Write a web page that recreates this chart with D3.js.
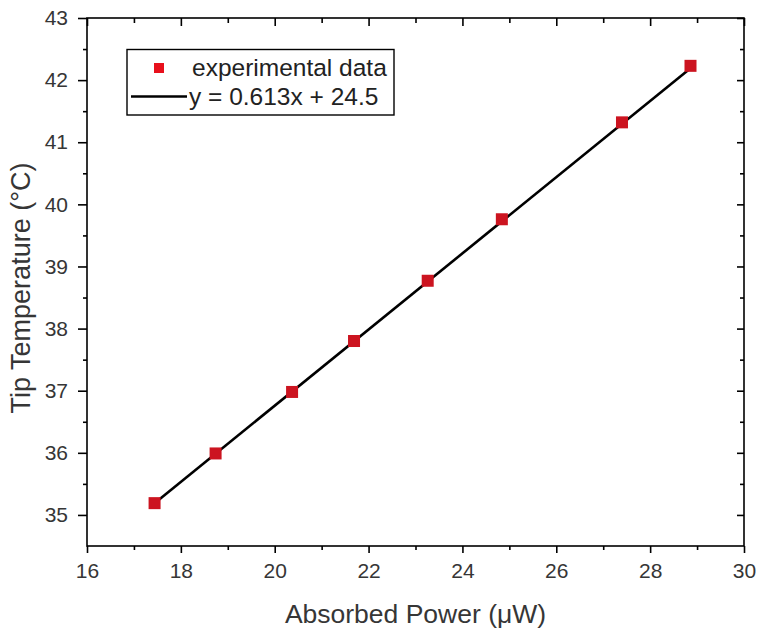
<!DOCTYPE html>
<html>
<head>
<meta charset="utf-8">
<script src="https://cdn.jsdelivr.net/npm/d3@7/dist/d3.min.js"></script>
<style>
  html, body { margin: 0; padding: 0; background: #fff; }
  svg { display: block; font-family: "Liberation Sans", Arial, sans-serif; }
</style>
</head>
<body>
<svg id="chart" width="757" height="630"></svg>
<script>
// ---- data ----
const powerX = [17.44, 18.74, 20.37, 21.69, 23.26, 24.84, 27.40, 28.86];
const tempY  = [35.19, 35.99, 36.98, 37.80, 38.77, 39.76, 41.32, 42.23];
const fitX   = [17.44, 28.86];
const fitY   = [35.19, 42.19];
const xTicks = [16, 18, 20, 22, 24, 26, 28, 30];
const yTicks = [35, 36, 37, 38, 39, 40, 41, 42, 43];
const xMinor = [17, 19, 21, 23, 25, 27, 29];
const yMinor = [35.5, 36.5, 37.5, 38.5, 39.5, 40.5, 41.5, 42.5];
const legendLabels = ["experimental data", "y = 0.613x + 24.5"];
const xTitle = "Absorbed Power (\u03BCW)";
const yTitle = "Tip Temperature (\u00B0C)";

// ---- layout ----
const L = 87, R = 744, T = 18, B = 546;
const svg = d3.select("#chart");
const x = d3.scaleLinear().domain([16, 30]).range([L, R]);
const y = d3.scaleLinear().domain([34.5, 43]).range([B, T]);
const textColor = "#363636";
const red = "#cc1420";

// frame
svg.append("rect").attr("x", L).attr("y", T).attr("width", R - L).attr("height", B - T)
  .attr("fill", "none").attr("stroke", "#000").attr("stroke-width", 1.6);

function styleAxis(g) {
  g.select(".domain").remove();
  g.selectAll("line").attr("stroke", "#000").attr("stroke-width", 1.6);
}

// bottom axis
svg.append("g").attr("transform", `translate(0,${B})`)
  .call(d3.axisBottom(x).tickValues(xTicks).tickSize(7).tickPadding(10).tickFormat(d3.format("d")))
  .call(styleAxis)
  .call(g => g.selectAll("text").attr("font-size", 21).attr("fill", textColor)
    .attr("font-family", "Liberation Sans, Arial, sans-serif"));
svg.append("g").attr("transform", `translate(0,${B})`)
  .call(d3.axisBottom(x).tickValues(xMinor).tickSize(4).tickFormat(""))
  .call(styleAxis);

// top axis (inward)
svg.append("g").attr("transform", `translate(0,${T})`)
  .call(d3.axisBottom(x).tickValues(xTicks).tickSize(8).tickFormat(""))
  .call(styleAxis);
svg.append("g").attr("transform", `translate(0,${T})`)
  .call(d3.axisBottom(x).tickValues(xMinor).tickSize(5).tickFormat(""))
  .call(styleAxis);

// left axis
svg.append("g").attr("transform", `translate(${L},0)`)
  .call(d3.axisLeft(y).tickValues(yTicks).tickSize(9).tickPadding(10).tickFormat(d3.format("d")))
  .call(styleAxis)
  .call(g => g.selectAll("text").attr("font-size", 21).attr("fill", textColor)
    .attr("font-family", "Liberation Sans, Arial, sans-serif"));
svg.append("g").attr("transform", `translate(${L},0)`)
  .call(d3.axisLeft(y).tickValues(yMinor).tickSize(4).tickFormat(""))
  .call(styleAxis);

// right axis (inward)
svg.append("g").attr("transform", `translate(${R},0)`)
  .call(d3.axisLeft(y).tickValues(yTicks).tickSize(7).tickFormat(""))
  .call(styleAxis);
svg.append("g").attr("transform", `translate(${R},0)`)
  .call(d3.axisLeft(y).tickValues(yMinor).tickSize(4).tickFormat(""))
  .call(styleAxis);

// fit line
const fitPts = fitX.map((v, i) => [v, fitY[i]]);
svg.append("path").datum(fitPts)
  .attr("d", d3.line().x(d => x(d[0])).y(d => y(d[1])))
  .attr("fill", "none").attr("stroke", "#000").attr("stroke-width", 2.6);

// data markers
const s = 12;
svg.append("g").selectAll("rect").data(powerX.map((v, i) => [v, tempY[i]])).join("rect")
  .attr("x", d => x(d[0]) - s / 2).attr("y", d => y(d[1]) - s / 2)
  .attr("width", s).attr("height", s).attr("fill", red);

// axis titles
svg.append("text").attr("x", (L + R) / 2).attr("y", 623).attr("text-anchor", "middle")
  .attr("font-size", 26.5).attr("fill", textColor).text(xTitle);
svg.append("text").attr("transform", "translate(30,288) rotate(-90)").attr("text-anchor", "middle")
  .attr("font-size", 27).attr("fill", textColor).text(yTitle);

// legend
const lg = svg.append("g");
lg.append("rect").attr("x", 127).attr("y", 49.5).attr("width", 267).attr("height", 65.5)
  .attr("fill", "#fff").attr("stroke", "#000").attr("stroke-width", 1.4);
lg.append("rect").attr("x", 154).attr("y", 63).attr("width", 10).attr("height", 10).attr("fill", "#e8101c");
lg.append("line").attr("x1", 131).attr("x2", 187).attr("y1", 96.5).attr("y2", 96.5)
  .attr("stroke", "#000").attr("stroke-width", 2.6);
lg.append("text").attr("x", 192).attr("y", 76).attr("font-size", 24.5).attr("fill", "#222").text(legendLabels[0]);
lg.append("text").attr("x", 189).attr("y", 105).attr("font-size", 24.5).attr("fill", "#222").text(legendLabels[1]);
</script>
</body>
</html>
